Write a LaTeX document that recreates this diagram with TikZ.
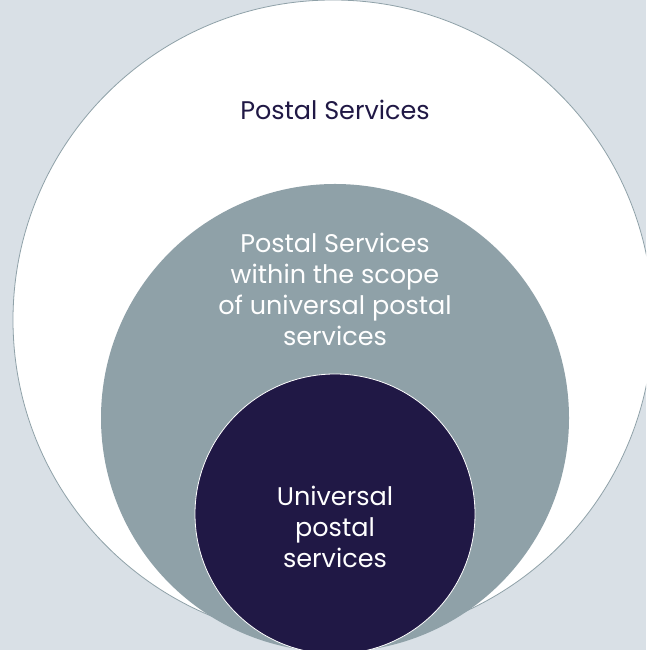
\documentclass[tikz,border=0pt]{standalone}
\usepackage{fontspec}
\setmainfont{Poppins}
\definecolor{pagebg}{HTML}{D9E0E6}
\definecolor{ringline}{HTML}{8FA1A8}
\definecolor{scopegray}{HTML}{8FA1A8}
\definecolor{universalnavy}{HTML}{201845}
\begin{document}
\begin{tikzpicture}[x=1pt, y=1pt,
    ring/.style={circle, inner sep=0pt, outer sep=0pt},
    label/.style={align=center, font=\fontsize{25.5}{31}\selectfont}]
    % Background
    \clip (0,0) rectangle (646,650);
    \fill[pagebg] (0,0) rectangle (646,650);

    % Rings
    \node[ring, draw=ringline, line width=0.8pt, fill=white, minimum size=640] (postal) at (333,330) {};
    \node[ring, fill=scopegray, minimum size=468] (scope) at (335,232) {};
    \node[ring, draw=white, line width=0.8pt, fill=universalnavy, minimum size=280] (universal) at (335,136) {};

    % Labels
    \node[label, text=universalnavy] (postaltext) at (335,540) {Postal Services};
    \node[label, text=white] (scopetext) at (335,361) {Postal Services\\within the scope\\of universal postal\\services};
    \node[label, text=white] (universaltext) at (335,123) {Universal\\postal\\services};
\end{tikzpicture}
\end{document}
